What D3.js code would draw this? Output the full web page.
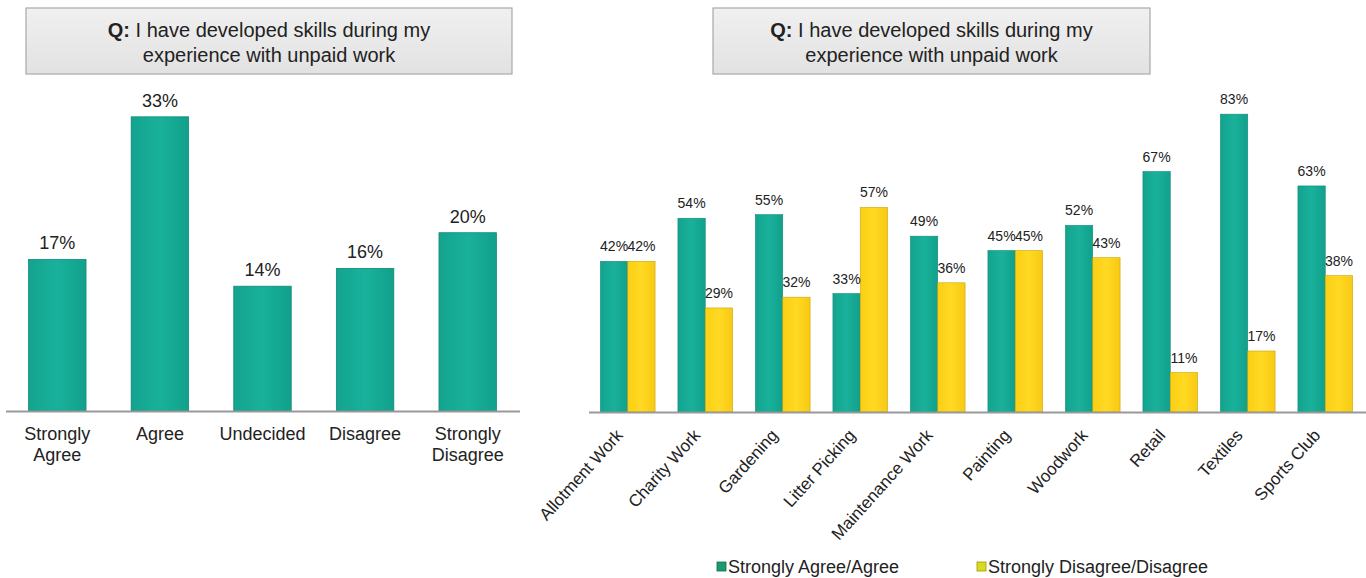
<!DOCTYPE html>
<html>
<head>
<meta charset="utf-8">
<script src="https://cdn.jsdelivr.net/npm/d3@7"></script>
<style>
  html, body { margin: 0; padding: 0; background: #fff; }
  svg { display: block; font-family: "Liberation Sans", Arial, sans-serif; }
</style>
</head>
<body>
<svg id="chart" width="1366" height="578"></svg>
<script>
// Overall responses
const responseCategories = ["Strongly Agree", "Agree", "Undecided", "Disagree", "Strongly Disagree"];
const responseValues = [17, 33, 14, 16, 20];

// Responses by activity type
const activityCategories = ["Allotment Work", "Charity Work", "Gardening", "Litter Picking", "Maintenance Work",
  "Painting", "Woodwork", "Retail", "Textiles", "Sports Club"];
const agreeValues = [42, 54, 55, 33, 49, 45, 52, 67, 83, 63];
const disagreeValues = [42, 29, 32, 57, 36, 45, 43, 11, 17, 38];
const seriesNames = ["Strongly Agree/Agree", "Strongly Disagree/Disagree"];

const titleLine1 = "I have developed skills during my";
const titleLine2 = "experience with unpaid work";

const svg = d3.select("#chart");

// Gradients for the title boxes and bars
const defs = svg.append("defs");
const boxGrad = defs.append("linearGradient").attr("id", "boxGrad").attr("x1", 0).attr("y1", 0).attr("x2", 0).attr("y2", 1);
boxGrad.append("stop").attr("offset", "0%").attr("stop-color", "#f0f0f0");
boxGrad.append("stop").attr("offset", "100%").attr("stop-color", "#e2e2e2");
const tealGrad = defs.append("linearGradient").attr("id", "tealGrad");
tealGrad.append("stop").attr("offset", "0%").attr("stop-color", "#13a38f");
tealGrad.append("stop").attr("offset", "50%").attr("stop-color", "#19b19b");
tealGrad.append("stop").attr("offset", "100%").attr("stop-color", "#11a08c");
const yellowGrad = defs.append("linearGradient").attr("id", "yellowGrad");
yellowGrad.append("stop").attr("offset", "0%").attr("stop-color", "#fbcf14");
yellowGrad.append("stop").attr("offset", "50%").attr("stop-color", "#ffd923");
yellowGrad.append("stop").attr("offset", "100%").attr("stop-color", "#f8c912");

function titleBox(x, y, w, h) {
  const g = svg.append("g");
  g.append("rect").attr("x", x).attr("y", y).attr("width", w).attr("height", h)
    .attr("fill", "url(#boxGrad)").attr("stroke", "#a8a8a8").attr("stroke-width", 1.2);
  const t1 = g.append("text").attr("x", x + w / 2).attr("y", y + 29)
    .attr("text-anchor", "middle").attr("font-size", 20).attr("fill", "#222");
  t1.append("tspan").attr("font-weight", "bold").text("Q:");
  t1.append("tspan").text(" " + titleLine1);
  g.append("text").attr("x", x + w / 2).attr("y", y + 54)
    .attr("text-anchor", "middle").attr("font-size", 20).attr("fill", "#222").text(titleLine2);
}

// ---------- Left chart ----------
titleBox(26, 8, 486, 66);

const baseL = 411;
const xL = d3.scaleBand().domain(responseCategories).range([6, 519]).paddingInner(0.44).paddingOuter(0.22);
const yL = d3.scaleLinear().domain([0, 35]).range([baseL, baseL - 312]);

const gL = svg.append("g");
gL.selectAll("rect.bar").data(responseValues).join("rect")
  .attr("class", "bar")
  .attr("x", (d, i) => xL(responseCategories[i]))
  .attr("y", d => yL(d))
  .attr("width", xL.bandwidth())
  .attr("height", d => baseL - yL(d))
  .attr("fill", "url(#tealGrad)")
  .attr("stroke", "#0f8b78").attr("stroke-width", 0.8);

gL.selectAll("text.val").data(responseValues).join("text")
  .attr("class", "val")
  .attr("x", (d, i) => xL(responseCategories[i]) + xL.bandwidth() / 2)
  .attr("y", d => yL(d) - 10)
  .attr("text-anchor", "middle").attr("font-size", 18).attr("fill", "#222")
  .text(d => d + "%");

const axL = gL.append("g").attr("transform", `translate(0,${baseL})`)
  .call(d3.axisBottom(xL).tickSize(0).tickPadding(0));
axL.select(".domain").attr("stroke", "#999").attr("stroke-width", 2).attr("d", "M6,0.5H520");
axL.selectAll(".tick text").remove();
axL.selectAll(".tick").each(function(d) {
  const words = d.split(" ");
  const t = d3.select(this).append("text").attr("fill", "#222").attr("font-size", 18)
    .attr("text-anchor", "middle").attr("font-family", "Liberation Sans, Arial, sans-serif");
  words.forEach((w, k) => t.append("tspan").attr("x", 0).attr("y", 29 + k * 21).text(w));
});

// ---------- Right chart ----------
titleBox(713, 8, 437, 66);

const baseR = 412;
const xR = d3.scaleBand().domain(activityCategories).range([589, 1364]).paddingInner(0.295).paddingOuter(0.1475);
const xSub = d3.scaleBand().domain([0, 1]).range([0, xR.bandwidth()]);
const yR = d3.scaleLinear().domain([0, 85]).range([baseR, baseR - 305]);

const gR = svg.append("g");
const groups = gR.selectAll("g.grp").data(activityCategories).join("g")
  .attr("class", "grp")
  .attr("transform", d => `translate(${xR(d)},0)`);

const fills = ["url(#tealGrad)", "url(#yellowGrad)"];
const strokes = ["#0f8b78", "#c9a40c"];
groups.each(function(cat, i) {
  const vals = [agreeValues[i], disagreeValues[i]];
  const g = d3.select(this);
  g.selectAll("rect").data(vals).join("rect")
    .attr("x", (d, k) => xSub(k))
    .attr("y", d => yR(d))
    .attr("width", xSub.bandwidth())
    .attr("height", d => baseR - yR(d))
    .attr("fill", (d, k) => fills[k])
    .attr("stroke", (d, k) => strokes[k]).attr("stroke-width", 0.6);
  g.selectAll("text").data(vals).join("text")
    .attr("x", (d, k) => xSub(k) + xSub.bandwidth() / 2)
    .attr("y", d => yR(d) - 10)
    .attr("text-anchor", "middle").attr("font-size", 14).attr("fill", "#222")
    .text(d => d + "%");
});

const axR = gR.append("g").attr("transform", `translate(0,${baseR})`)
  .call(d3.axisBottom(xR).tickSize(0).tickPadding(0));
axR.select(".domain").attr("stroke", "#999").attr("stroke-width", 2).attr("d", "M589,0.5H1366");
axR.selectAll(".tick text")
  .attr("font-size", 17).attr("fill", "#222")
  .attr("font-family", "Liberation Sans, Arial, sans-serif")
  .attr("text-anchor", "end")
  .attr("transform", "translate(-4,24) rotate(-48)")
  .attr("dy", 0).attr("y", 0).attr("x", 0);

// Legend
const legendColors = ["#1b9a6d", "#dada1e"];
const legendStroke = ["#0e6e4c", "#9a9a10"];
const legendX = [717, 977];
const legend = svg.append("g");
seriesNames.forEach((name, k) => {
  legend.append("rect").attr("x", legendX[k]).attr("y", 562).attr("width", 9).attr("height", 9)
    .attr("fill", legendColors[k]).attr("stroke", legendStroke[k]).attr("stroke-width", 0.8);
  legend.append("text").attr("x", legendX[k] + 11).attr("y", 573)
    .attr("font-size", 18).attr("fill", "#222").text(name);
});
</script>
</body>
</html>
